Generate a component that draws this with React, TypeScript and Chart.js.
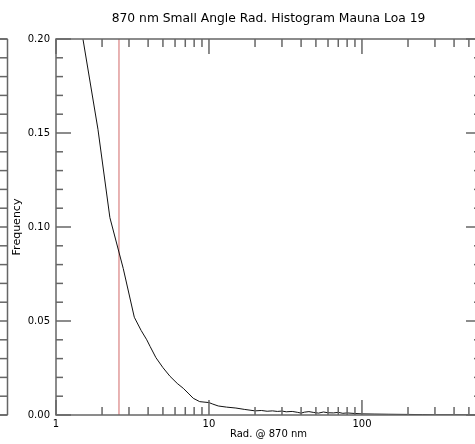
import React, { useEffect, useRef } from 'react';
import { Chart, registerables } from 'chart.js';

Chart.register(...registerables);

const titleText = '870 nm Small Angle Rad. Histogram Mauna Loa 19';
const xTitle = 'Rad. @ 870 nm';
const yTitle = 'Frequency';

const radValues = [
  1.25, 1.5, 1.88, 2.25, 2.75, 3.25, 3.6, 3.92, 4.12, 4.5, 5.0, 5.56, 6.2, 6.79, 7.4, 7.89, 8.7, 10, 10.6, 11.5, 13, 15, 17, 20,
  22, 24, 26, 28, 30, 32, 35, 38, 40, 42, 45, 48, 52, 56, 60, 65, 70, 75, 80, 90,
  100, 120, 150, 200, 250, 300, 400, 600,
];
const freqValues = [
  0.24, 0.2, 0.152, 0.105, 0.078, 0.052, 0.045, 0.04, 0.0365, 0.0305, 0.0252, 0.0206, 0.0168, 0.0142, 0.0112, 0.0089, 0.0071, 0.0066, 0.0058, 0.0048, 0.0042, 0.0037, 0.003, 0.0022,
  0.0024, 0.002, 0.0022, 0.0019, 0.0021, 0.0017, 0.0019, 0.0014, 0.001, 0.0015, 0.0018, 0.0014, 0.001, 0.0016, 0.0012, 0.0011, 0.0014, 0.0009, 0.0011, 0.0008,
  0.0006, 0.0005, 0.0004, 0.0003, 0.0002, 0.0001, 0.0001, 0.0,
];
const markerRad = 2.58;

const xMin = 1;
const xMax = 600;
const yMin = 0;
const yMax = 0.2;
const yMajorStep = 0.05;
const yMinorStep = 0.01;
const xDecades = [1, 10, 100];
const xLabelValues = [1, 10, 100];

export default function App() {
  const ref = useRef<HTMLCanvasElement>(null);
  useEffect(() => {
    document.documentElement.style.overflow = 'hidden';
    const axisColor = '#666666';
    const framePlugin = {
      id: 'framePlugin',
      afterDatasetsDraw(chart: any) {
        const { ctx, chartArea, scales } = chart;
        const { left, right, top, bottom } = chartArea;
        const x = scales.x;
        const y = scales.y;
        ctx.save();
        ctx.strokeStyle = axisColor;
        ctx.lineWidth = 1.5;
        const line = (x1: number, y1: number, x2: number, y2: number) => {
          ctx.beginPath();
          ctx.moveTo(x1, y1);
          ctx.lineTo(x2, y2);
          ctx.stroke();
        };
        ctx.strokeRect(left, top, right - left, bottom - top);
        const nY = Math.round((yMax - yMin) / yMinorStep);
        const majorEvery = Math.round(yMajorStep / yMinorStep);
        for (let i = 0; i <= nY; i++) {
          const py = y.getPixelForValue(yMin + i * yMinorStep);
          const len = i % majorEvery === 0 ? 15 : 7;
          line(left, py, left + len, py);
          line(right, py, right - len, py);
          line(0, py, 7.5, py);
        }
        // neighbouring panel edge at the far left
        line(7.5, top, 7.5, bottom);
        line(0, top, 7.5, top);
        line(0, bottom, 7.5, bottom);
        for (const d of xDecades) {
          for (let m = 1; m <= 9; m++) {
            const v = d * m;
            if (v < xMin || v > xMax) continue;
            const px = x.getPixelForValue(v);
            const len = m === 1 ? 15 : 8;
            line(px, bottom, px, bottom - len);
            line(px, top, px, top + len);
          }
        }
        // chart title centred over the plot frame
        ctx.fillStyle = '#000';
        ctx.font = '12.3px "DejaVu Sans"';
        ctx.textAlign = 'center';
        ctx.textBaseline = 'middle';
        ctx.fillText(titleText, (left + right) / 2, top / 2 - 1);
        ctx.restore();
      },
    };
    const chart = new Chart(ref.current as HTMLCanvasElement, {
      type: 'line',
      data: {
        datasets: [
          {
            data: radValues.map((r, i) => ({ x: r, y: freqValues[i] })),
            borderColor: '#111111',
            borderWidth: 1,
            pointRadius: 0,
            tension: 0,
          },
          {
            data: [
              { x: markerRad, y: yMin },
              { x: markerRad, y: yMax },
            ],
            borderColor: '#e09a9a',
            borderWidth: 1.5,
            pointRadius: 0,
          },
        ],
      },
      options: {
        responsive: false,
        animation: false,
        devicePixelRatio: 1,
        layout: { padding: { left: 0, right: 19, top: 39, bottom: 0 } },
        plugins: {
          legend: { display: false },
          tooltip: { enabled: false },
          title: { display: false },
        },
        scales: {
          x: {
            type: 'logarithmic',
            min: xMin,
            max: xMax,
            grid: { display: false, drawTicks: false },
            border: { display: false },
            afterFit: (s: any) => {
              s.height = 29;
            },
            ticks: {
              autoSkip: false,
              maxRotation: 0,
              padding: 3,
              color: '#000',
              font: { family: 'DejaVu Sans', size: 10 },
              callback: (v: any) => (xLabelValues.includes(Number(v)) ? String(v) : ''),
            },
            title: {
              display: true,
              text: xTitle,
              color: '#000',
              font: { family: 'DejaVu Sans', size: 10 },
              padding: { top: 0, bottom: 4 },
            },
          },
          y: {
            type: 'linear',
            min: yMin,
            max: yMax,
            grid: { display: false, drawTicks: false },
            border: { display: false },
            afterFit: (s: any) => {
              s.width = 56;
            },
            ticks: {
              stepSize: yMajorStep,
              padding: 6,
              color: '#000',
              font: { family: 'DejaVu Sans', size: 10 },
              callback: (v: any) => Number(v).toFixed(2),
            },
            title: {
              display: true,
              text: yTitle,
              color: '#000',
              font: { family: 'DejaVu Sans', size: 11 },
              padding: { top: 11, bottom: 0 },
            },
          },
        },
      },
      plugins: [framePlugin],
    } as any);
    return () => chart.destroy();
  }, []);
  return (
    <div
      style={{
        position: 'absolute',
        left: 0,
        top: 0,
        width: 475,
        height: 444,
        overflow: 'hidden',
        background: '#fff',
      }}
    >
      <canvas ref={ref} width={500} height={444} style={{ display: 'block' }} />
    </div>
  );
}
